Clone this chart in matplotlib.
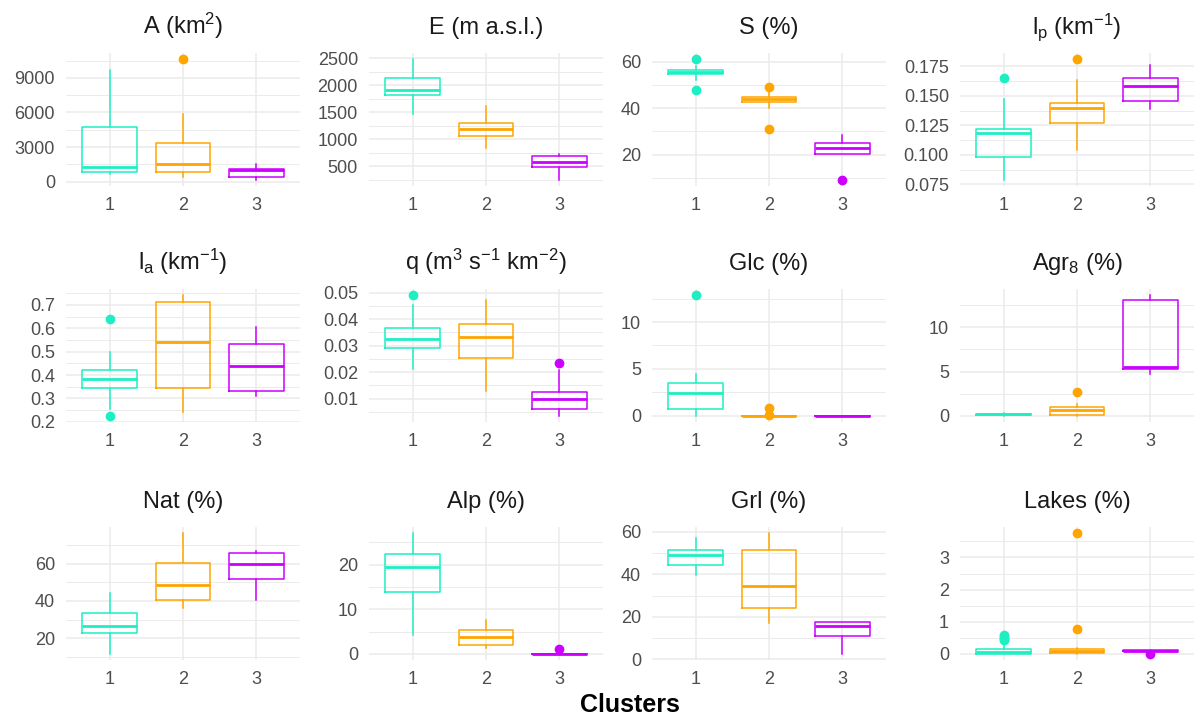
import numpy as np
import matplotlib.pyplot as plt

plt.rcParams["font.family"] = ["Liberation Sans", "DejaVu Sans"]
plt.rcParams["mathtext.fontset"] = "custom"
plt.rcParams["mathtext.rm"] = "Liberation Sans"
plt.rcParams["mathtext.it"] = "Liberation Sans:italic"
plt.rcParams["mathtext.bf"] = "Liberation Sans:bold"

clusters = ["1", "2", "3"]
cluster_colors = ["#1DEFC2", "#FFA500", "#CC00FF"]

# box stats per cluster: [whisker low, q1, median, q3, whisker high]
A_box = [[700, 876, 1250, 4760, 9650], [380, 850, 1520, 3360, 5900], [150, 440, 1020, 1110, 1550]]
A_out = [[], [10630], []]
E_box = [[1469, 1831, 1912, 2137, 2487], [844, 1069, 1200, 1312, 1625], [250, 487, 575, 687, 731]]
E_out = [[], [], []]
S_box = [[52.0, 54.6, 55.6, 56.6, 58.2], [40.1, 42.8, 44.0, 45.0, 47.3], [20.3, 20.4, 22.9, 24.9, 28.4]]
S_out = [[61.2, 48.0], [49.3, 31.0], [9.1]]
lp_box = [[0.0788, 0.0985, 0.1187, 0.1221, 0.1473], [0.1045, 0.1273, 0.1401, 0.1442, 0.1636],
          [0.1388, 0.1461, 0.1587, 0.1650, 0.1759]]
lp_out = [[0.1653], [0.1813], []]
la_box = [[0.254, 0.346, 0.385, 0.423, 0.499], [0.243, 0.346, 0.542, 0.713, 0.742], [0.311, 0.333, 0.437, 0.533, 0.605]]
la_out = [[0.641, 0.225], [], []]
q_box = [[0.0212, 0.0293, 0.0327, 0.0368, 0.0452], [0.0131, 0.0255, 0.0333, 0.0382, 0.0471],
         [0.0035, 0.0060, 0.0099, 0.0125, 0.0208]]
q_out = [[0.0491], [], [0.0233]]
Glc_box = [[0.0, 0.79, 2.44, 3.52, 4.42], [0, 0, 0, 0, 0], [0, 0, 0, 0, 0]]
Glc_out = [[12.87], [0.8, 0.1], []]
Agr_box = [[0.05, 0.12, 0.2, 0.25, 0.38], [0.0, 0.08, 0.72, 1.06, 1.33], [4.75, 5.32, 5.47, 13.03, 13.6]]
Agr_out = [[], [2.70], []]
Nat_box = [[11.5, 22.5, 26.7, 33.7, 44.4], [36.3, 40.3, 48.4, 60.6, 76.5], [40.5, 51.7, 60.0, 65.6, 66.7]]
Nat_out = [[], [], []]
Alp_box = [[4.3, 13.8, 19.6, 22.5, 27.1], [1.36, 2.0, 3.9, 5.4, 7.7], [0, 0, 0, 0, 0]]
Alp_out = [[], [], [1.0]]
Grl_box = [[39.8, 44.3, 48.9, 51.4, 57.0], [17.0, 24.2, 34.6, 51.6, 59.5], [2.4, 11.0, 15.6, 17.5, 17.6]]
Grl_out = [[], [], []]
Lakes_box = [[0.0, 0.0, 0.075, 0.157, 0.35], [0.0, 0.03, 0.094, 0.157, 0.2], [0.1, 0.1, 0.107, 0.115, 0.12]]
Lakes_out = [[0.42, 0.47, 0.5, 0.55, 0.6], [3.76, 0.78], [0.0]]

panel_titles = ["A (km$^{2}$)", "E (m a.s.l.)", "S (%)", "l$_{\\mathrm{p}}$ (km$^{-1}$)",
                "l$_{\\mathrm{a}}$ (km$^{-1}$)", "q (m$^{3}$ s$^{-1}$ km$^{-2}$)", "Glc (%)", "Agr$_{8}$ (%)",
                "Nat (%)", "Alp (%)", "Grl (%)", "Lakes (%)"]
panel_boxes = [A_box, E_box, S_box, lp_box, la_box, q_box, Glc_box, Agr_box, Nat_box, Alp_box, Grl_box, Lakes_box]
panel_outliers = [A_out, E_out, S_out, lp_out, la_out, q_out, Glc_out, Agr_out, Nat_out, Alp_out, Grl_out, Lakes_out]
panel_ticks = [["0", "3000", "6000", "9000"],
               ["500", "1000", "1500", "2000", "2500"],
               ["20", "40", "60"],
               ["0.075", "0.100", "0.125", "0.150", "0.175"],
               ["0.2", "0.3", "0.4", "0.5", "0.6", "0.7"],
               ["0.01", "0.02", "0.03", "0.04", "0.05"],
               ["0", "5", "10"],
               ["0", "5", "10"],
               ["20", "40", "60"],
               ["0", "10", "20"],
               ["0", "20", "40", "60"],
               ["0", "1", "2", "3"]]

W, H = 1196, 719
fig = plt.figure(figsize=(W / 100, H / 100), dpi=100)
lefts = [66, 369, 652, 960]
tops = [53, 289, 527]
aw, ah = 234, 133
grid_col = "#EBEBEB"

for i in range(12):
    r, c = divmod(i, 4)
    ax = fig.add_axes([lefts[c] / W, 1 - (tops[r] + ah) / H, aw / W, ah / H])
    allv = []
    for k in range(3):
        lo, q1, med, q3, hi = panel_boxes[i][k]
        fl = panel_outliers[i][k]
        allv += [lo, hi] + fl
        col = cluster_colors[k]
        st = dict(whislo=lo, q1=q1, med=med, q3=q3, whishi=hi, fliers=fl)
        ax.bxp([st], positions=[k + 1], widths=0.75, showcaps=False,
               boxprops=dict(color=col, lw=1.1),
               whiskerprops=dict(color=col, lw=1.1),
               medianprops=dict(color=col, lw=2.0, solid_capstyle="butt"),
               flierprops=dict(marker="o", markerfacecolor=col, markeredgecolor=col, markersize=6))
    lo, hi = min(allv), max(allv)
    pad = 0.05 * (hi - lo)

    ticks = panel_ticks[i]
    major = [float(t) for t in ticks]
    step = major[1] - major[0]
    minor = np.arange(major[0] - step / 2, major[-1] + step, step)
    ax.set_yticks(major, ticks)
    ax.set_yticks(minor, minor=True)
    ax.set_ylim(lo - pad, hi + pad)
    ax.set_xticks([1, 2, 3], clusters)
    ax.set_xlim(0.4, 3.6)

    ax.grid(True, which="major", color=grid_col, lw=1.1)
    ax.grid(True, which="minor", axis="y", color=grid_col, lw=0.7)
    ax.set_axisbelow(True)
    for s in ax.spines.values():
        s.set_visible(False)
    ax.tick_params(which="both", length=0, labelsize=13, labelcolor="#4D4D4D", pad=8)
    ax.set_title(panel_titles[i], fontsize=17, color="#1A1A1A", pad=14)

fig.text(630 / W, 1 - 705 / H, "Clusters", ha="center", va="center", fontsize=18, fontweight="bold")

plt.savefig("out.png", dpi=100)
